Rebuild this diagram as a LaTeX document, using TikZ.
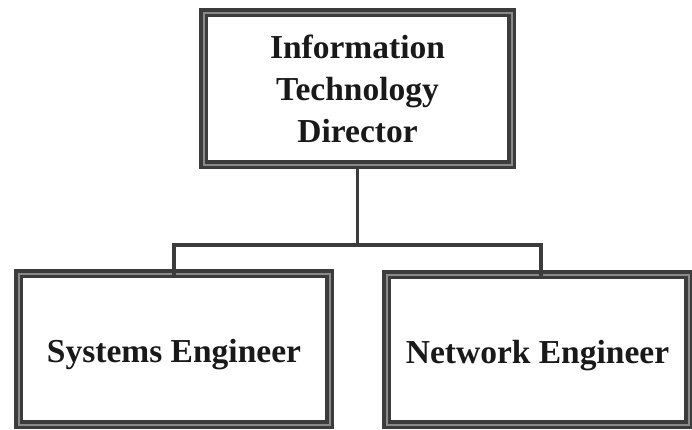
\documentclass[tikz,border=0pt]{standalone}
\usepackage{fontspec}
\setmainfont{Liberation Serif}
\definecolor{frame}{HTML}{3C3C3C}
\definecolor{framemid}{HTML}{8A8A8A}
\newcommand{\lowertext}[1]{\raisebox{-6pt}[\height][\depth]{#1}}
\begin{document}
\begin{tikzpicture}[x=1pt,y=-1pt,
  orgbox/.style={draw=frame, line width=3.5pt, double=framemid, double distance=2pt,
    fill=white, inner sep=0pt, outer sep=0pt, align=center,
    font=\bfseries\fontsize{33.5}{42}\selectfont, text=black!90},
  link/.style={draw=frame, line width=3.5pt}]
\useasboundingbox (0,0) rectangle (692,429);
\node[orgbox, minimum width=308pt, minimum height=152pt] (dir) at (357.5,88.5)
  {Information\\Technology\\Director};
\node[orgbox, minimum width=311pt, minimum height=151pt] (sys) at (174,349)
  {\lowertext{Systems Engineer}};
\node[orgbox, minimum width=302pt, minimum height=150pt] (net) at (537.5,349.5)
  {\lowertext{Network Engineer}};
\coordinate (j) at (357.5,245);
\draw[link] (dir.south) ++(0,4.5) -- (j);
\draw[link] (j) -| ([yshift=-4.5pt]sys.north);
\draw[link] (j) -| ([xshift=3.5pt,yshift=-4.5pt]net.north);
\end{tikzpicture}
\end{document}
